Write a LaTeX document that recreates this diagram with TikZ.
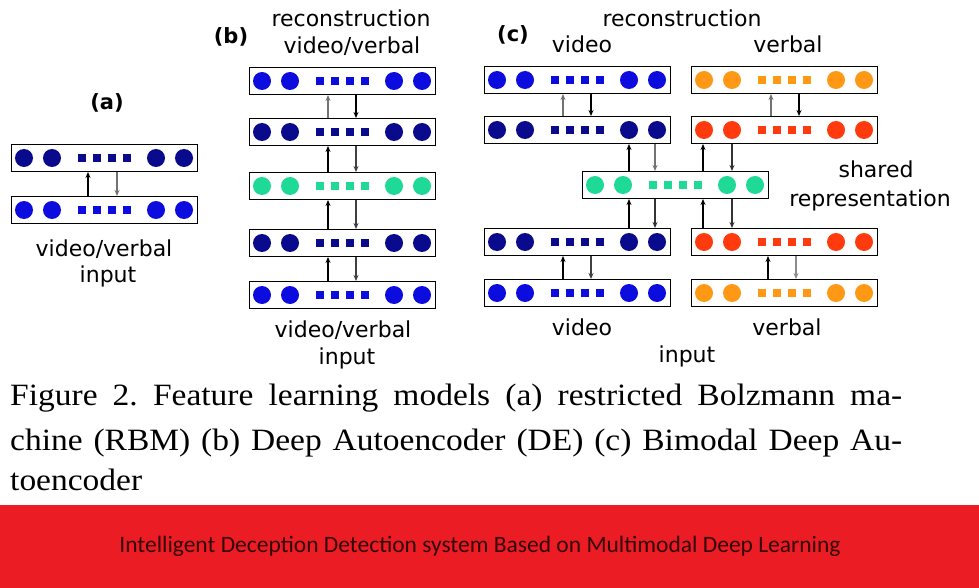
\documentclass[tikz,border=0pt]{standalone}
\usepackage{fontspec}
\setmainfont{Liberation Serif}
\newfontfamily\labelfont{DejaVu Sans}
\newfontfamily\captionfont[FakeStretch=1.08]{Liberation Serif}
\newfontfamily\bannerfont{Carlito}
\usetikzlibrary{calc, arrows.meta, positioning}
\definecolor{vidin}{RGB}{12,12,222}
\definecolor{hidnavy}{RGB}{10,10,140}
\definecolor{sharedgreen}{RGB}{30,218,150}
\definecolor{verbin}{RGB}{255,152,20}
\definecolor{verbhid}{RGB}{255,58,14}
\definecolor{bannerred}{RGB}{236,28,36}
\definecolor{bannertext}{RGB}{50,6,6}
\tikzset{
    layernode/.style = {draw, rectangle, line width=1pt, minimum width=186pt, minimum height=27pt,
      inner sep=0pt, fill=white},
    textnode/.style = {draw=none, inner sep=0pt, anchor=base, font=\labelfont\fontsize{22}{26}\selectfont},
    boldnode/.style = {textnode, font=\labelfont\bfseries\fontsize{21}{26}\selectfont},
    captionnode/.style = {inner sep=0pt, anchor=base west, font=\captionfont\fontsize{31}{36}\selectfont},
    bannernode/.style = {fill=bannerred, inner sep=0pt, minimum width=979pt, minimum height=83pt},
    bannertextnode/.style = {inner sep=0pt, text=bannertext, font=\bannerfont\fontsize{23.5}{28}\selectfont},
    upconnect/.style = {line width=2.4pt, -{Stealth[length=6pt,width=5pt]}},
    downconnect/.style = {line width=1.9pt, -{Stealth[length=6pt,width=5pt]}}
}
% units drawn inside one layer
\newcommand{\units}[2]{%
  \foreach \dx in {-80,-52,52,80} \fill[#2] ($(#1)+(\dx,0)$) circle (9pt);
  \foreach \dx in {-22.5,-7.5,7.5,22.5} \fill[#2] ($(#1)+(\dx,0)$) +(-4pt,-4pt) rectangle +(4pt,4pt);
}
\frenchspacing

\begin{document}
\begin{tikzpicture}[x=1pt, y=-1pt]
    \useasboundingbox (0,0) rectangle (979,588);

    % (a) RBM
    \node [layernode, name=a1] at (104,158) {};
    \node [layernode, name=a0] at (104,210) {};
    \units{a1}{hidnavy}
    \units{a0}{vidin}
    \draw [upconnect, black] ([xshift=-16pt]a0.north) -- ([xshift=-16pt]a1.south);
    \draw [downconnect, black!55] ([xshift=13pt]a1.south) -- ([xshift=13pt]a0.north);
    \node [boldnode] (alabel) at (107,110) {(a)};
    \node [textnode] (ain1) at (104,256) {video/verbal};
    \node [textnode] (ain2) at (108,282) {input};

    % (b) deep autoencoder
    \node [layernode, name=b1] at (342,81) {};
    \node [layernode, name=b2] at (342,132) {};
    \node [layernode, name=b3] at (342,186) {};
    \node [layernode, name=b4] at (342,243) {};
    \node [layernode, name=b5] at (342,295) {};
    \units{b1}{vidin}
    \units{b2}{hidnavy}
    \units{b3}{sharedgreen}
    \units{b4}{hidnavy}
    \units{b5}{vidin}
    \draw [upconnect, black!55] ([xshift=-14pt]b2.north) -- ([xshift=-14pt]b1.south);
    \draw [downconnect, black] ([xshift=14pt]b1.south) -- ([xshift=14pt]b2.north);
    \foreach \lo/\hi in {b3/b2, b4/b3, b5/b4} {
      \draw [upconnect, black] ([xshift=-14pt]\lo.north) -- ([xshift=-14pt]\hi.south);
      \draw [downconnect, black!75] ([xshift=14pt]\hi.south) -- ([xshift=14pt]\lo.north);
    }
    \node [boldnode] (blabel) at (231,44) {(b)};
    \node [textnode] (brec1) at (351,27) {reconstruction};
    \node [textnode] (brec2) at (352,54) {video/verbal};
    \node [textnode] (bin1) at (343,337) {video/verbal};
    \node [textnode] (bin2) at (347,364) {input};

    % (c) bimodal deep autoencoder
    \node [layernode, name=cv1] at (577,80) {};
    \node [layernode, name=cv2] at (577,130) {};
    \node [layernode, name=cv3] at (577,242) {};
    \node [layernode, name=cv4] at (577,293) {};
    \node [layernode, name=cw1] at (784,80) {};
    \node [layernode, name=cw2] at (784,130) {};
    \node [layernode, name=cw3] at (784,242) {};
    \node [layernode, name=cw4] at (784,293) {};
    \node [layernode, name=cs] at (675,185) {};
    \units{cv1}{vidin}
    \units{cv2}{hidnavy}
    \units{cv3}{hidnavy}
    \units{cv4}{vidin}
    \units{cw1}{verbin}
    \units{cw2}{verbhid}
    \units{cw3}{verbhid}
    \units{cw4}{verbin}
    \units{cs}{sharedgreen}

    \draw [upconnect, black!55] ([xshift=-14pt]cv2.north) -- ([xshift=-14pt]cv1.south);
    \draw [downconnect, black] ([xshift=14pt]cv1.south) -- ([xshift=14pt]cv2.north);
    \draw [upconnect, black!55] ([xshift=-13pt]cw2.north) -- ([xshift=-13pt]cw1.south);
    \draw [downconnect, black] ([xshift=15pt]cw1.south) -- ([xshift=15pt]cw2.north);

    \draw [upconnect, black] ([xshift=-46pt]cs.north) -- ([xshift=-46pt]cs.north |- cv2.south);
    \draw [downconnect, black!55] ([xshift=-20pt]cs.north |- cv2.south) -- ([xshift=-20pt]cs.north);
    \draw [upconnect, black] ([xshift=28pt]cs.north) -- ([xshift=28pt]cs.north |- cw2.south);
    \draw [downconnect, black!80] ([xshift=57pt]cs.north |- cw2.south) -- ([xshift=57pt]cs.north);

    \draw [upconnect, black] ([xshift=-46pt]cs.south |- cv3.north) -- ([xshift=-46pt]cs.south);
    \draw [downconnect, black!80] ([xshift=-20pt]cs.south) -- ([xshift=-20pt]cs.south |- cv3.north);
    \draw [upconnect, black] ([xshift=28pt]cs.south |- cw3.north) -- ([xshift=28pt]cs.south);
    \draw [downconnect, black!80] ([xshift=57pt]cs.south) -- ([xshift=57pt]cs.south |- cw3.north);

    \draw [upconnect, black] ([xshift=-14pt]cv4.north) -- ([xshift=-14pt]cv3.south);
    \draw [downconnect, black!75] ([xshift=14pt]cv3.south) -- ([xshift=14pt]cv4.north);
    \draw [upconnect, black] ([xshift=-16pt]cw4.north) -- ([xshift=-16pt]cw3.south);
    \draw [downconnect, black!45] ([xshift=12pt]cw3.south) -- ([xshift=12pt]cw4.north);

    \node [boldnode] (clabel) at (513,42) {(c)};
    \node [textnode] (crec) at (682,27) {reconstruction};
    \node [textnode] (crecv) at (582,53) {video};
    \node [textnode] (crecw) at (788,53) {verbal};
    \node [textnode] (csh1) at (876,178) {shared};
    \node [textnode] (csh2) at (870,206) {representation};
    \node [textnode] (cinv) at (582,335) {video};
    \node [textnode] (cinw) at (787,335) {verbal};
    \node [textnode] (cin) at (687,362) {input};

    % caption and banner
    \node [captionnode] (cap1) at (10,405) {\makebox[892pt][s]{Figure 2. Feature learning models (a) restricted Bolzmann ma-}};
    \node [captionnode] (cap2) at (10,450) {\makebox[892pt][s]{chine (RBM) (b) Deep Autoencoder (DE) (c) Bimodal Deep Au-}};
    \node [captionnode] (cap3) at (10,490) {toencoder};
    \node [bannernode] (banner) at (489.5,546.5) {};
    \node [bannertextnode] (bannertitle) at (480,546.5) {Intelligent Deception Detection system Based on Multimodal Deep Learning};
\end{tikzpicture}
\end{document}
